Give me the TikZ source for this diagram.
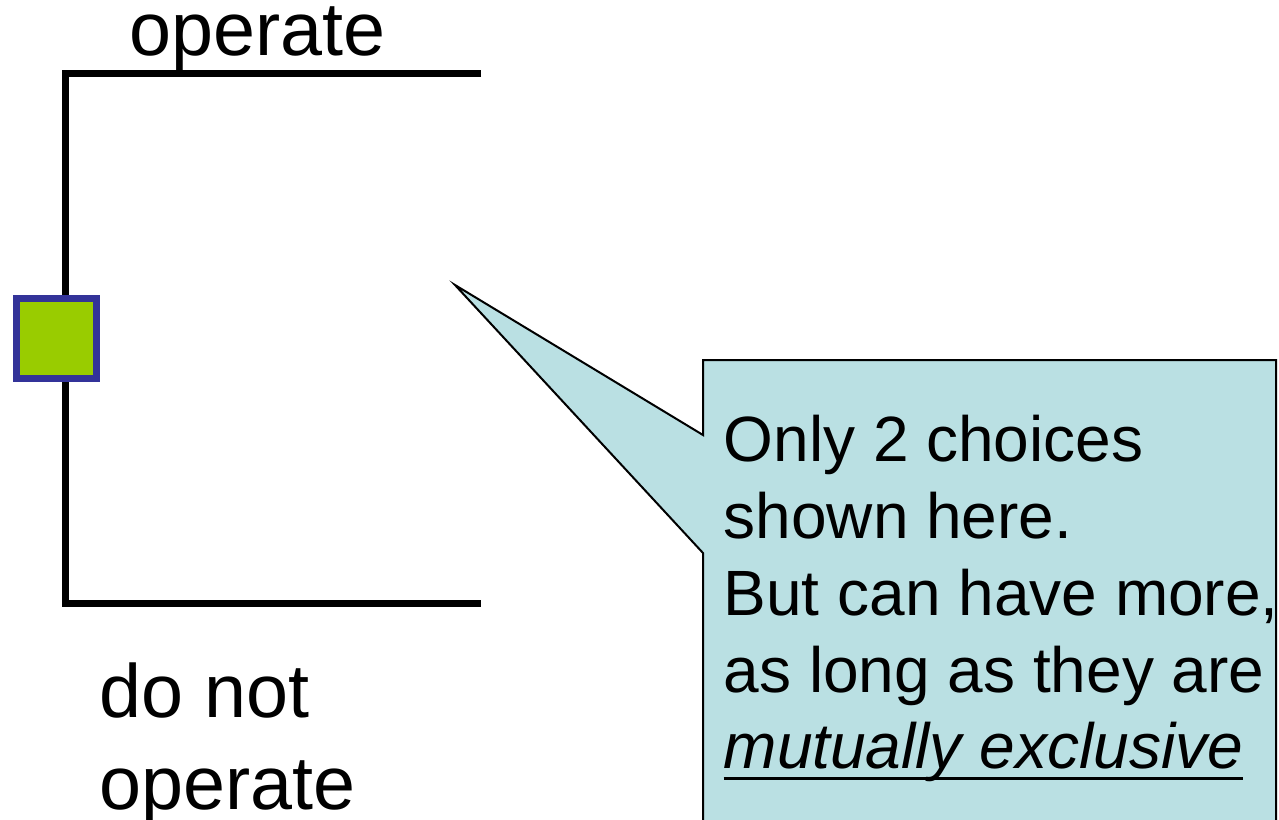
\documentclass[tikz,border=0pt]{standalone}
\usepackage{fontspec}
\setmainfont{Liberation Sans}
\definecolor{leafgreen}{RGB}{153,204,0}
\definecolor{decblue}{RGB}{51,51,153}
\definecolor{noteblue}{RGB}{186,224,227}
% underline at a fixed depth below the baseline, ignoring descenders
\newcommand\fixedul[1]{\setbox0\hbox{#1}\rlap{\rule[-11pt]{\wd0}{3pt}}\box0}
\begin{document}
\begin{tikzpicture}[x=1pt,y=-1pt,
  branch/.style={line width=7pt,line join=miter,line cap=butt},
  decision/.style={draw=decblue,fill=leafgreen,line width=7pt,
    minimum width=80pt,minimum height=80pt,inner sep=0pt},
  label/.style={inner sep=0pt,anchor=base west,font=\fontsize{75.5}{92}\selectfont},
  note/.style={fill=noteblue,draw=black,line width=2pt,line join=miter},
  notetext/.style={inner sep=0pt,anchor=base west,font=\fontsize{64}{76.8}\selectfont}]
\useasboundingbox (0,0) rectangle (1279,819);
\clip (0,0) rectangle (1279,819);

% decision branches
\coordinate (topend) at (481,73);
\coordinate (topcorner) at (65,73);
\coordinate (botcorner) at (65,603);
\coordinate (botend) at (481,603);
\draw[branch] (topend) -- (topcorner) -- (botcorner) -- (botend);

% decision node
\node[decision] (dec) at (56.7,338) {};

% branch labels
\node[label] (op) at (129,55) {operate};
\node[label] (dont) at (99,717)
  {\begin{tabular}[t]{@{}l@{}}do not\\operate\end{tabular}};

% callout
\coordinate (tip) at (455,285);
\draw[note] (703,360) -- (1276,360) -- (1276,840) -- (703,840)
  -- (703,553) -- (tip) -- (703,435) -- cycle;
\node[notetext] (txt) at (723.5,461.7)
  {\begin{tabular}[t]{@{}l@{}}Only 2 choices\\shown here.\\But can have more,\\as long as they are\\\fixedul{\itshape mutually exclusive}\end{tabular}};
\end{tikzpicture}
\end{document}
